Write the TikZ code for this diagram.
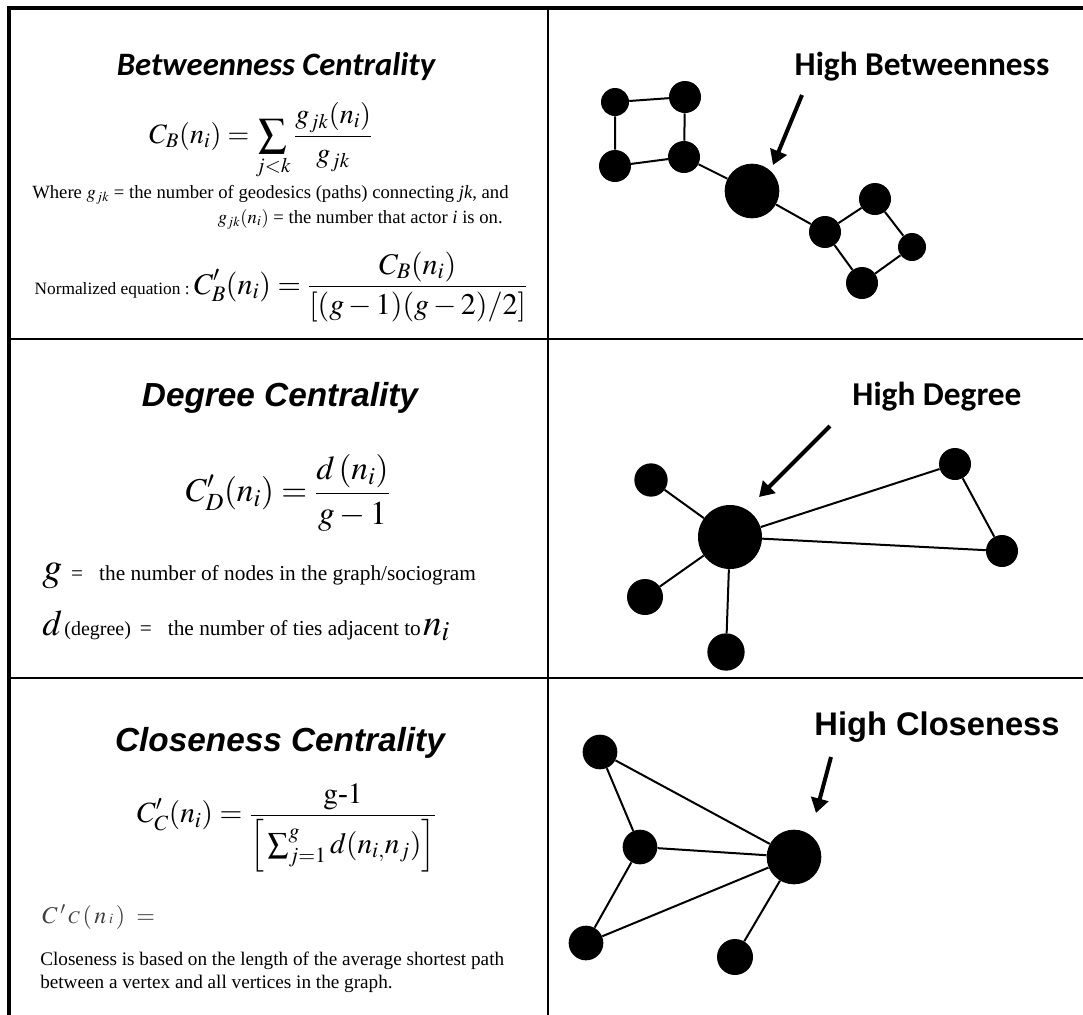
\documentclass[tikz,border=0pt]{standalone}
\usepackage{mathptmx}
\usepackage[no-math]{fontspec}
\setmainfont{Liberation Serif}
\newfontfamily\calibrifont{Carlito}
\newfontfamily\arialfont{Liberation Sans}
\usetikzlibrary{arrows.meta}

\begin{document}
\begin{tikzpicture}[x=0.75pt,y=-0.75pt]
\tikzstyle{every node}=[inner sep=0pt]
\tikzstyle{frame}=[line width=3.5pt]
\tikzstyle{grid}=[line width=2pt]
\tikzstyle{actor}=[circle,fill=black,inner sep=0pt,minimum size=24pt]
\tikzstyle{tie}=[line width=1.5pt]
\tikzstyle{pointer}=[line width=3pt,-{Triangle[length=11pt,width=13pt]}]
\tikzstyle{calititle}=[font=\calibrifont\bfseries\itshape\fontsize{24.5}{28}\selectfont]
\tikzstyle{arialtitle}=[font=\arialfont\bfseries\itshape\fontsize{25}{28}\selectfont]
\tikzstyle{calilabel}=[font=\calibrifont\bfseries\fontsize{25}{28}\selectfont]
\tikzstyle{ariallabel}=[font=\arialfont\bfseries\fontsize{24.5}{28}\selectfont]
\tikzstyle{body}=[font=\fontsize{14}{17}\selectfont]
\useasboundingbox (0,0) rectangle (1083,1015);
\fill[white] (0,0) rectangle (1083,1015);

\draw[frame] (1083,8) -- (9,8) -- (9,1015);
\draw[grid] (548,8) -- (548,1015);
\draw[grid] (9,339) -- (1083,339);
\draw[grid] (9,678) -- (1083,678);

% betweenness
\node[calititle] (btitle) at (276,67) {Betweenness Centrality};
\node[font=\fontsize{21}{24}\selectfont] (bformula) at (261,141)
  {$\displaystyle C_B(n_i)=\sum_{j<k}\frac{g_{jk}(n_i)}{g_{jk}}$};
\node[body,anchor=west] (bwhere) at (32,195)
  {Where $g_{jk}$ = the number of geodesics (paths) connecting \textit{jk}, and};
\node[body,anchor=east] (bactor) at (503,219)
  {$g_{jk}(n_i)$ = the number that actor \textit{i} is on.};
\node (bnorm) at (281,287) {{\fontsize{13}{15}\selectfont Normalized equation :}
  {\fontsize{22.5}{26}\selectfont$\displaystyle C'_B(n_i)=\frac{C_B(n_i)}{[(g-1)(g-2)/2]}$}};

\node[actor,minimum size=21pt] (b1) at (615,102) {};
\node[actor] (b2) at (685,97) {};
\node[actor] (b3) at (615,166) {};
\node[actor] (b4) at (684,157) {};
\node[actor,minimum size=41pt] (bhub) at (752,191) {};
\node[actor] (b5) at (825,232) {};
\node[actor] (b6) at (875,199) {};
\node[actor,minimum size=21pt] (b7) at (912,247) {};
\node[actor] (b8) at (862,283) {};
\draw[tie] (b1) -- (b2) -- (b4) -- (b3) -- (b1);
\draw[tie] (b4) -- (bhub) -- (b5);
\draw[tie] (b5) -- (b6) -- (b7) -- (b8) -- (b5);
\node[calilabel] (blabel) at (922,67) {High Betweenness};
\coordinate (btail) at (802,95);
\coordinate (btip) at (773,165);
\draw[pointer] (btail) -- (btip);

% degree
\node[arialtitle] (dtitle) at (280,398) {Degree Centrality};
\node[font=\fontsize{25}{28}\selectfont] (dformula) at (288,493)
  {$\displaystyle C'_D(n_i)=\frac{d\,(n_i)}{g-1}$};
\node[anchor=base west] (dnodes) at (42,580) {{\fontsize{30}{30}\selectfont$g$}\ \,
  {\fontsize{16}{19}\selectfont = \ \ the number of nodes in the graph/sociogram}};
\node[anchor=base west] (dties) at (42,635) {{\fontsize{27}{27}\selectfont$d$}\,{\fontsize{15}{18}\selectfont(degree)}\ \,
  {\fontsize{16}{19}\selectfont= \ \ the number of ties adjacent to}\,{\fontsize{28}{28}\selectfont$n_i$}};

\node[actor,minimum size=48pt] (dhub) at (730,537) {};
\node[actor,minimum size=25pt] (d1) at (651,480) {};
\node[actor,minimum size=27pt] (d2) at (645,597) {};
\node[actor,minimum size=28pt] (d3) at (726,652) {};
\node[actor] (d4) at (955,464) {};
\node[actor] (d5) at (1002,551) {};
\draw[tie] (dhub) -- (d1);
\draw[tie] (dhub) -- (d2);
\draw[tie] (dhub) -- (d3);
\draw[tie] (dhub) -- (d4) -- (d5) -- (dhub);
\node[calilabel] (dlabel) at (937,397) {High Degree};
\coordinate (dtail) at (830,426);
\coordinate (dtip) at (759,497);
\draw[pointer] (dtail) -- (dtip);

% closeness
\node[arialtitle] (ctitle) at (280,743) {Closeness Centrality};
\node[font=\fontsize{22}{26}\selectfont] (cformula) at (287,828)
  {$\displaystyle C'_C(n_i)=\frac{\mathrm{g\mbox{-}1}}{\Big[\textstyle\sum_{j=1}^{g} d(n_{i,}n_j)\Big]}$};
\node[anchor=base west,text=black!75] (cshort) at (42,923)
  {\fontsize{18}{21}\selectfont$C\,'\,{\scriptstyle C}\,(\,n\,{\scriptscriptstyle i}\,)\ =$};
\node[anchor=west,align=left,font=\fontsize{14.4}{17.5}\selectfont] (ctext) at (40,972)
  {Closeness is based on the length of the average shortest path\\between a vertex and all vertices in the graph.};

\node[actor,minimum size=26pt] (c1) at (600,752) {};
\node[actor,minimum size=26pt] (c2) at (640,847) {};
\node[actor,minimum size=26pt] (c3) at (586,943) {};
\node[actor,minimum size=41pt] (chub) at (794,857) {};
\node[actor,minimum size=27pt] (c4) at (735,957) {};
\draw[tie] (c1) -- (c2) -- (c3) -- (chub) -- (c1);
\draw[tie] (c2) -- (chub) -- (c4);
\node[ariallabel] (clabel) at (937,727) {High Closeness};
\coordinate (ctail) at (831,757);
\coordinate (ctip) at (816,813);
\draw[pointer] (ctail) -- (ctip);
\end{tikzpicture}
\end{document}
